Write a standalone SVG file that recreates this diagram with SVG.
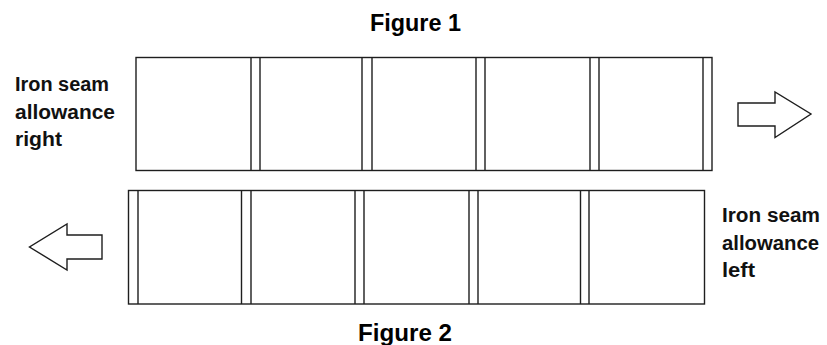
<svg xmlns="http://www.w3.org/2000/svg" width="827" height="345" viewBox="0 0 827 345">
<style>
.ln{fill:none;stroke:#1e1e1e;stroke-width:1.4}
.bx{fill:#fff;stroke:#1e1e1e;stroke-width:1.4}
.ttl{font-family:"Liberation Sans",Arial,sans-serif;font-weight:bold;font-size:23px;fill:#000}
.lbl{font-family:"Liberation Sans",Arial,sans-serif;font-weight:bold;font-size:19.5px;fill:#111}
</style>
<rect width="827" height="345" fill="#fff"/>
<g id="figure1-title"><text class="ttl" x="370" y="31" textLength="91" lengthAdjust="spacingAndGlyphs">Figure 1</text></g>
<g id="figure2-title"><text class="ttl" x="358" y="340.5" textLength="94" lengthAdjust="spacingAndGlyphs">Figure 2</text></g>
<g id="label-right">
<text class="lbl" x="15" y="91" textLength="94" lengthAdjust="spacingAndGlyphs">Iron seam</text>
<text class="lbl" x="15" y="119" textLength="100" lengthAdjust="spacingAndGlyphs">allowance</text>
<text class="lbl" x="15" y="146" textLength="47" lengthAdjust="spacingAndGlyphs">right</text>
</g>
<g id="label-left">
<text class="lbl" x="722" y="221.5" textLength="98" lengthAdjust="spacingAndGlyphs">Iron seam</text>
<text class="lbl" x="722" y="249.5" textLength="97" lengthAdjust="spacingAndGlyphs">allowance</text>
<text class="lbl" x="722" y="277" textLength="33" lengthAdjust="spacingAndGlyphs">left</text>
</g>
<g id="strip1">
<rect class="bx" x="136" y="57.5" width="576" height="113"/>
<path class="ln" d="M251 57.5V170.5M260 57.5V170.5M362 57.5V170.5M372 57.5V170.5M476 57.5V170.5M485 57.5V170.5M590 57.5V170.5M599 57.5V170.5M703 57.5V170.5"/>
</g>
<g id="strip2">
<rect class="bx" x="128.5" y="190.5" width="576" height="113.5"/>
<path class="ln" d="M138 190.5V304M241.5 190.5V304M251 190.5V304M355 190.5V304M364 190.5V304M469 190.5V304M478 190.5V304M580.5 190.5V304M589 190.5V304"/>
</g>
<g id="connectors">
<polygon class="bx" points="738,103 775,103 775,92 811,114 775,137.5 775,126 738,126"/>
<polygon class="bx" points="102,235 67,235 67,224 29.5,247 67,270 67,259 102,259"/>
</g>
</svg>
